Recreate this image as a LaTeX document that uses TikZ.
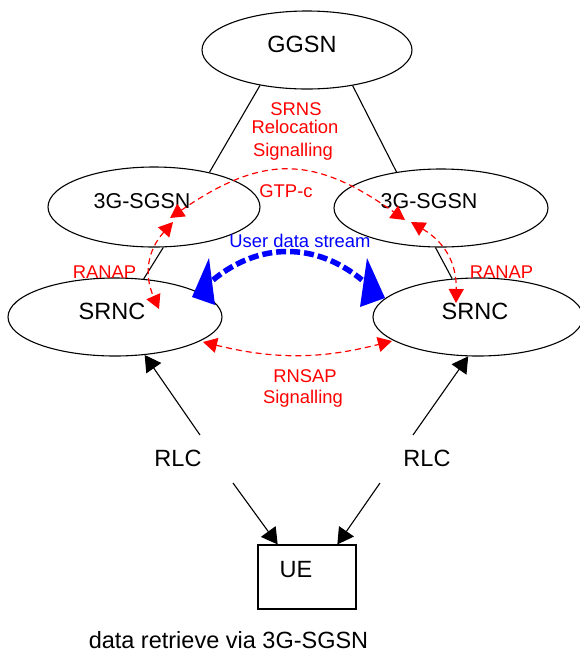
\documentclass[tikz,border=0pt]{standalone}
\usepackage{fontspec}
\setmainfont{Liberation Sans}
\usetikzlibrary{arrows.meta,shapes.geometric}
\begin{document}
\begin{tikzpicture}[x=1pt,y=-1pt,
  ell/.style={draw, ellipse, line width=1.1pt, inner sep=0pt},
  blk/.style={anchor=base, inner sep=0pt, font=\fontsize{23.5}{28}\selectfont},
  sgt/.style={anchor=base, inner sep=0pt, font=\fontsize{21.5}{26}\selectfont},
  redt/.style={anchor=base, inner sep=0pt, text=red, font=\fontsize{18.4}{22}\selectfont},
  bluet/.style={anchor=base, inner sep=0pt, text=blue, font=\fontsize{18.4}{22}\selectfont},
  conn/.style={line width=1.1pt},
  blkarr/.style={line width=1.1pt, -{Triangle[length=16pt,width=18pt]}},
  redarr/.style={red, line width=1.2pt, dash pattern=on 6pt off 4pt,
     {Triangle[length=14pt,width=15pt]}-{Triangle[length=14pt,width=15pt]}},
  bluearr/.style={blue, line width=5.5pt, dash pattern=on 10pt off 4pt},
  bluehead/.style={fill=blue}
]
\useasboundingbox (0,0) rectangle (580,657);

% shapes
\node[ell, minimum width=210pt, minimum height=78pt] (ggsn)  at (307,50)  {};
\node[ell, minimum width=212pt, minimum height=80pt] (sgsnL) at (154,207) {};
\node[ell, minimum width=214pt, minimum height=78pt] (sgsnR) at (441,208) {};
\node[ell, minimum width=214pt, minimum height=78pt] (srncL) at (115,317) {};
\node[ell, minimum width=210pt, minimum height=78pt] (srncR) at (478,317) {};
\node[draw, rectangle, line width=1.1pt, minimum width=98pt, minimum height=64pt, inner sep=0pt] (ue) at (307,577) {};

% texts
\node[blk] (tggsn) at (302,52.5) {GGSN};
\node[sgt] (tsgsnL) at (142,208) {3G-SGSN};
\node[sgt] (tsgsnR) at (429,208) {3G-SGSN};
\node[blk] (tsrncL) at (112,319) {SRNC};
\node[blk] (tsrncR) at (475,319) {SRNC};
\node[blk] (rlcL) at (178,466) {RLC};
\node[blk] (rlcR) at (427,466) {RLC};
\node[blk] (tue) at (296,577) {UE};
\node[blk] (caption) at (228.5,648) {data retrieve via 3G-SGSN};

\node[redt] (l1) at (296,115) {SRNS};
\node[redt] (l2) at (295,133) {Relocation};
\node[redt] (l3) at (293,156) {Signalling};
\node[redt] (gtpc) at (286,197.5) {GTP-c};
\node[bluet] (uds) at (300,247) {User data stream};
\node[redt] (ranapL) at (104.5,278) {RANAP};
\node[redt] (ranapR) at (501.5,278) {RANAP};
\node[redt] (rnsap) at (305,382) {RNSAP};
\node[redt] (rnsig) at (303,403) {Signalling};

% black lines
\draw[conn] (ggsn.-143) -- (sgsnL.32);
\draw[conn] (ggsn.-38) -- (sgsnR.141);
\draw[conn] (sgsnL.-77) -- (srncL.53);
\draw[conn] (sgsnR.-98) -- (srncR.124);

% RLC arrows
\coordinate (rlcLa) at (200,435);
\coordinate (rlcLb) at (233,483);
\coordinate (rlcRa) at (413,435);
\coordinate (rlcRb) at (380,483);
\draw[blkarr] (rlcLa) -- (srncL.-52);
\draw[blkarr] (rlcLb) -- (ue.132);
\draw[blkarr] (rlcRa) -- (srncR.-104);
\draw[blkarr] (rlcRb) -- (ue.47);

% red dashed signalling
\coordinate (gL) at (170,218);
\coordinate (gR) at (405,220);
\coordinate (rLu) at (173,222);
\coordinate (rLd) at (159,309);
\coordinate (rRu) at (411,222);
\coordinate (rRd) at (456,303);
\coordinate (nL) at (203,342);
\coordinate (nR) at (392,341);
\draw[redarr] (gL) to[bend left=35, looseness=1.22] (gR);
\draw[redarr] (rLu) to[bend right=33, looseness=1.1] (rLd);
\draw[redarr] (rRu) to[bend left=30, looseness=1.1] (rRd);
\draw[redarr] (nL) to[bend right=14] (nR);

% blue user data stream
\coordinate (bL) at (213,280);
\coordinate (bR) at (362,280);
\draw[bluearr] (bL) .. controls (259,242) and (316,242) .. (bR);
\fill[bluehead] (209,258) -- (192,297) -- (215,305) -- cycle;
\fill[bluehead] (367,258) -- (360,307) -- (385,298) -- cycle;
\end{tikzpicture}
\end{document}
